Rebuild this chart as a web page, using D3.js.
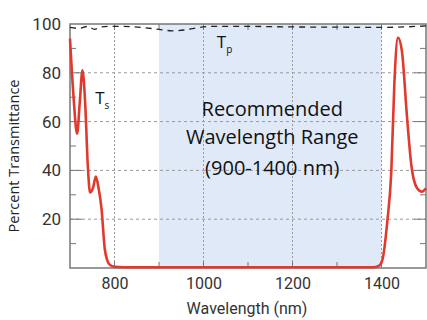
<!DOCTYPE html>
<html>
<head>
<meta charset="utf-8">
<script src="https://cdn.jsdelivr.net/npm/d3@7"></script>
<style>
  body { margin: 0; background: #fff; }
  svg { display: block; }
</style>
</head>
<body>
<svg id="chart" width="427" height="320"></svg>
<script>
// s-polarised transmittance (red)
const tsWavelength = [700, 708, 716, 722, 728, 734, 740, 745, 752, 758, 764, 771, 778, 784, 790, 800, 820,
                      1380, 1395, 1402, 1413, 1422, 1429, 1437, 1446, 1457, 1467, 1480, 1491, 1500];
const tsPercent    = [94, 70, 55, 68, 81, 68, 42, 31, 33, 37.5, 33, 24, 8, 3, 1.2, 0.5, 0.3,
                      0.3, 1, 3.3, 19, 39.5, 76, 94.4, 88.7, 62.7, 42.2, 32.7, 31.3, 32.6];

// p-polarised transmittance (black dashed)
const tpWavelength = [700, 720, 740, 755, 770, 790, 820, 860, 900, 930, 960, 990, 1020, 1100, 1200, 1300, 1400, 1450, 1500];
const tpPercent    = [98.6, 98.2, 99, 97.8, 98.8, 99, 99, 98.6, 97.8, 97.2, 97.6, 98.6, 99, 99, 98.8, 98.7, 98.6, 98.8, 99.2];

const xTicks = [800, 1000, 1200, 1400];
const yTicks = [20, 40, 60, 80, 100];
const bandRange = [900, 1400];
const bandLabel = ["Recommended", "Wavelength Range", "(900-1400 nm)"];

const svg = d3.select("#chart");
const margin = {left: 70, right: 1, top: 24, bottom: 52};
const width = 427 - margin.left - margin.right;
const height = 320 - margin.top - margin.bottom;

const x = d3.scaleLinear().domain([700, 1500]).range([0, width]);
const y = d3.scaleLinear().domain([0, 100]).range([height, 0]);

const g = svg.append("g").attr("transform", `translate(${margin.left},${margin.top})`);

// shaded band
g.append("rect")
  .attr("x", x(bandRange[0]))
  .attr("y", 0)
  .attr("width", x(bandRange[1]) - x(bandRange[0]))
  .attr("height", height)
  .attr("fill", "#dfe9f7");

// grid
g.append("g").selectAll("line").data(xTicks).join("line")
  .attr("x1", d => x(d)).attr("x2", d => x(d))
  .attr("y1", 0).attr("y2", height)
  .attr("stroke", "#999").attr("stroke-dasharray", "2,2");
g.append("g").selectAll("line").data([20, 40, 60, 80]).join("line")
  .attr("x1", 0).attr("x2", width)
  .attr("y1", d => y(d)).attr("y2", d => y(d))
  .attr("stroke", "#999").attr("stroke-dasharray", "3,3");

// ticks on the frame (inward)
const frameColor = "#777";
const tickG = g.append("g").attr("stroke", frameColor).attr("stroke-width", 1);
d3.range(10, 100, 10).forEach(v => {
  const len = v % 20 === 0 ? 12 : 6;
  tickG.append("line").attr("x1", 0).attr("x2", len).attr("y1", y(v)).attr("y2", y(v));
  tickG.append("line").attr("x1", width).attr("x2", width - len).attr("y1", y(v)).attr("y2", y(v));
});
d3.range(800, 1500, 100).forEach(v => {
  tickG.append("line").attr("x1", x(v)).attr("x2", x(v)).attr("y1", height).attr("y2", height - 6);
  tickG.append("line").attr("x1", x(v)).attr("x2", x(v)).attr("y1", 0).attr("y2", 6);
});

// frame
g.append("rect")
  .attr("width", width).attr("height", height)
  .attr("fill", "none").attr("stroke", frameColor).attr("stroke-width", 1.5);

// axis labels via d3 axes (no domain / tick lines)
const xAxis = g.append("g")
  .attr("transform", `translate(0,${height})`)
  .call(d3.axisBottom(x).tickValues(xTicks).tickFormat(d3.format("d")).tickSize(0).tickPadding(10));
const yAxis = g.append("g")
  .call(d3.axisLeft(y).tickValues(yTicks).tickFormat(d3.format("d")).tickSize(0).tickPadding(9));
[xAxis, yAxis].forEach(a => {
  a.select(".domain").remove();
  a.selectAll("text")
    .attr("font-family", "Roboto, 'Liberation Sans', sans-serif")
    .attr("font-size", 16)
    .attr("fill", "#333");
});
yAxis.selectAll("text").attr("font-size", 17);

svg.append("text")
  .attr("x", 247)
  .attr("y", 314)
  .attr("text-anchor", "middle")
  .attr("font-family", "Roboto, 'Liberation Sans', sans-serif")
  .attr("font-size", 16)
  .attr("fill", "#333")
  .text("Wavelength (nm)");

svg.append("text")
  .attr("transform", "translate(19,156) rotate(-90)")
  .attr("text-anchor", "middle")
  .attr("font-family", "'Open Sans', sans-serif")
  .attr("font-size", 14.5)
  .attr("fill", "#222")
  .text("Percent Transmittance");

// curves
const line = d3.line().curve(d3.curveMonotoneX);

g.append("path")
  .attr("d", line(tpWavelength.map((w, i) => [x(w), y(tpPercent[i])])))
  .attr("fill", "none")
  .attr("stroke", "#222")
  .attr("stroke-width", 1.3)
  .attr("stroke-dasharray", "6,5");

g.append("path")
  .attr("d", line(tsWavelength.map((w, i) => [x(w), y(tsPercent[i])])))
  .attr("fill", "none")
  .attr("stroke", "#e03a2f")
  .attr("stroke-width", 2.6);

// band annotation
const ann = g.append("text")
  .attr("text-anchor", "middle")
  .attr("font-family", "'Open Sans', sans-serif")
  .attr("font-size", 20)
  .attr("fill", "#111");
bandLabel.forEach((t, i) => {
  ann.append("tspan")
    .attr("x", x(1150) + 2)
    .attr("y", [92, 120, 151][i])
    .text(t);
});

// curve labels
function subLabel(px, py, sub) {
  const t = g.append("text")
    .attr("x", px).attr("y", py)
    .attr("font-family", "'Open Sans', sans-serif")
    .attr("font-size", 17)
    .attr("fill", "#111");
  t.append("tspan").text("T");
  t.append("tspan").attr("dy", 5).attr("font-size", 10).text(sub);
}
subLabel(x(761) - 2, 80, "s");
subLabel(x(1030), 24, "p");
</script>
</body>
</html>
